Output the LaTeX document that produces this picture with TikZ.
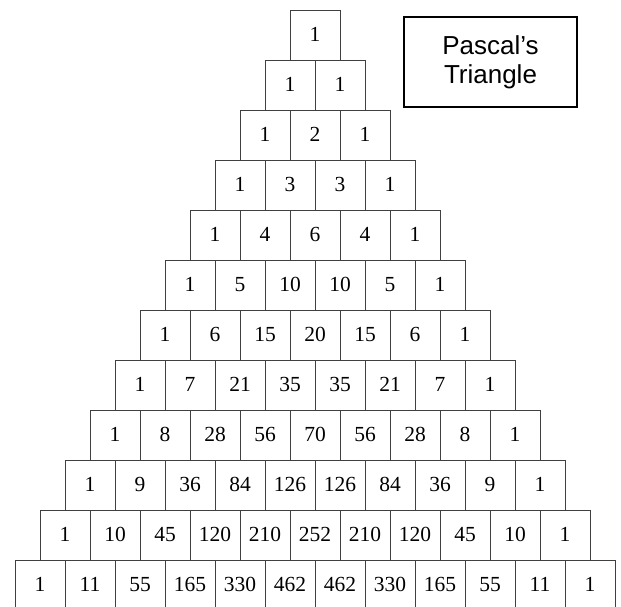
\documentclass[tikz,border=0pt]{standalone}
\usepackage{fontspec}
\setmainfont{Liberation Serif}
\newfontfamily\titlefont{Liberation Sans}
\tikzset{
  cell/.style={draw=black!75, line width=0.7pt, minimum width=50pt, minimum height=50pt,
    inner sep=0pt, text height=14pt, text depth=0pt, font=\fontsize{21.5}{24}\selectfont},
  titlebox/.style={draw, line width=1.3pt, minimum width=173pt, minimum height=90pt,
    align=center, font=\titlefont\fontsize{26}{29}\selectfont}
}
\begin{document}
\begin{tikzpicture}[x=1pt,y=1pt]
\useasboundingbox (0,0) rectangle (621,607);
\clip (0,0) rectangle (621,607);
% rows of the triangle
\foreach \vals [count=\r] in {{1},{1,1},{1,2,1},{1,3,3,1},{1,4,6,4,1},{1,5,10,10,5,1},
  {1,6,15,20,15,6,1},{1,7,21,35,35,21,7,1},{1,8,28,56,70,56,28,8,1},
  {1,9,36,84,126,126,84,36,9,1},{1,10,45,120,210,252,210,120,45,10,1},
  {1,11,55,165,330,462,462,330,165,55,11,1}}{
  \foreach \v [count=\k] in \vals {
    \node[cell] (c-\r-\k) at ({315-(\r-1)*25+(\k-1)*50},{572-(\r-1)*50}) {\v};
  }
}
\node[titlebox] (title) at (490.5,545) {Pascal’s\\Triangle};
\end{tikzpicture}
\end{document}
